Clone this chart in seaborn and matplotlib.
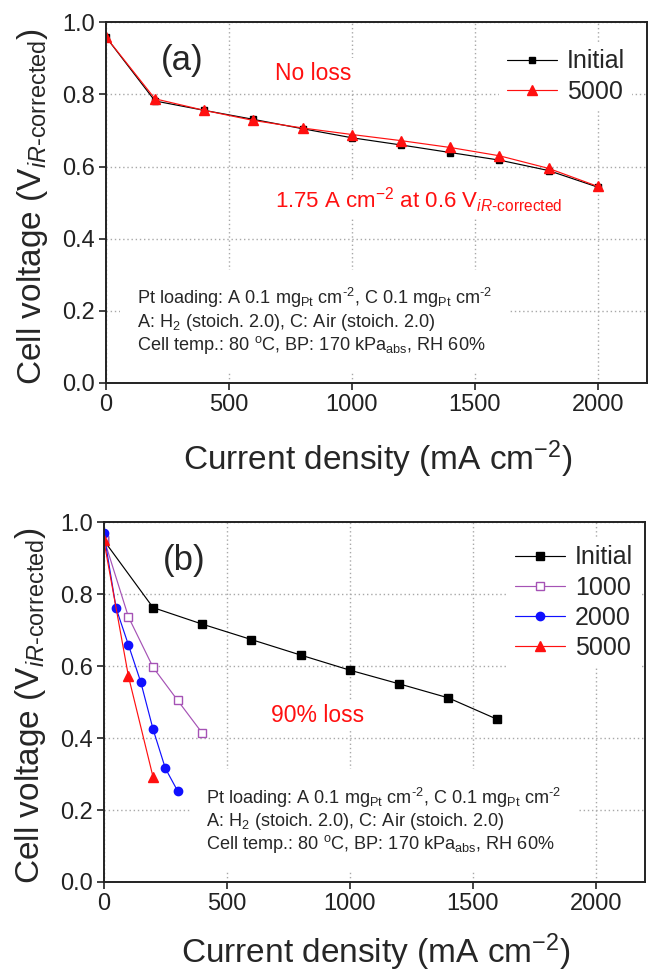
import numpy as np
import pandas as pd
import matplotlib
matplotlib.use("Agg")
import matplotlib.pyplot as plt
import seaborn as sns

# ---------------- data ----------------
x_a = [0, 200, 400, 600, 800, 1000, 1200, 1400, 1600, 1800, 2000]
a_initial = [0.960, 0.782, 0.756, 0.731, 0.705, 0.680, 0.660, 0.639, 0.618, 0.589, 0.543]
a_5000 = [0.960, 0.788, 0.756, 0.728, 0.707, 0.689, 0.672, 0.653, 0.630, 0.595, 0.545]

x_b_initial = [0, 200, 400, 600, 800, 1000, 1200, 1400, 1600]
b_initial = [0.950, 0.763, 0.717, 0.674, 0.631, 0.589, 0.551, 0.512, 0.452]
x_b_1000 = [0, 100, 200, 300, 400]
b_1000 = [0.955, 0.737, 0.597, 0.505, 0.414]
x_b_2000 = [0, 50, 100, 150, 200, 250, 300]
b_2000 = [0.970, 0.761, 0.659, 0.556, 0.425, 0.316, 0.253]
x_b_5000 = [0, 100, 200]
b_5000 = [0.950, 0.572, 0.292]

x_ticks = [0, 500, 1000, 1500, 2000]
y_ticks = [0.0, 0.2, 0.4, 0.6, 0.8, 1.0]

# ---------------- style ----------------
sns.set_style("ticks")
plt.rcParams["font.family"] = ["Liberation Sans", "DejaVu Sans"]
plt.rcParams["mathtext.fontset"] = "custom"
plt.rcParams["mathtext.rm"] = "Liberation Sans"
plt.rcParams["mathtext.it"] = "Liberation Sans:italic"
plt.rcParams["mathtext.bf"] = "Liberation Sans:bold"
plt.rcParams["mathtext.sf"] = "Liberation Sans"
plt.rcParams["axes.unicode_minus"] = True

RED = "#ff1010"
PURPLE = "#a552b5"
BLUE = "#1010ff"
BLACK = "#000000"

fig = plt.figure(figsize=(6.49, 9.72), dpi=100)
ax_a = fig.add_axes([0.163, 0.606, 0.834, 0.371])
ax_b = fig.add_axes([0.160, 0.0926, 0.834, 0.370])

ylab = r"Cell voltage (V$_{\mathit{iR}\text{-corrected}}$)"
xlab = r"Current density (mA cm$^{-2}$)"
block = (r"Pt loading: A 0.1 mg$_{\mathrm{Pt}}$ cm$^{\text{-}2}$, C 0.1 mg$_{\mathrm{Pt}}$ cm$^{\text{-}2}$" "\n"
         r"A: H$_2$ (stoich. 2.0), C: Air (stoich. 2.0)" "\n"
         r"Cell temp.: 80 $^{\mathrm{o}}$C, BP: 170 kPa$_{\mathrm{abs}}$, RH 60%")


def draw(ax, x, y, label, color, marker, ms, mfc=None):
    df = pd.DataFrame({"x": x, "y": y})
    sns.lineplot(data=df, x="x", y="y", ax=ax, color=color, marker=marker,
                 markersize=ms, markeredgecolor=color,
                 markerfacecolor=(mfc if mfc is not None else color),
                 markeredgewidth=1.0, linewidth=0.85, label=label,
                 estimator=None, sort=False)


def style(ax, xlab_y):
    ax.set_xlim(0, 2200)
    ax.set_ylim(0, 1.0)
    ax.set_xticks(x_ticks)
    ax.set_yticks(y_ticks)
    ax.set_yticklabels([f"{v:.1f}" for v in y_ticks])
    ax.tick_params(axis="both", labelsize=17, length=5, width=1.2,
                   direction="out", colors="#222222", pad=3)
    ax.set_axisbelow(True)
    ax.grid(True, linestyle=(0, (1, 2)), color="#a8a8a8", linewidth=1.0)
    for s in ax.spines.values():
        s.set_visible(True)
        s.set_linewidth(1.4)
        s.set_color("#222222")
    ax.set_xlabel(xlab, fontsize=24, va="top")
    ax.set_ylabel(ylab, fontsize=24, va="center")
    ax.xaxis.set_label_coords(0.503, xlab_y)
    ax.yaxis.set_label_coords(-0.136, 0.49)


bbox_w = dict(boxstyle="square,pad=0.15", facecolor="white", edgecolor="none")
leg_kw = dict(loc="upper left", fontsize=18, frameon=True, facecolor="white",
              edgecolor="none", framealpha=1, handlelength=2.0, handletextpad=0.4,
              labelspacing=0.25, borderpad=0.3, borderaxespad=0, fancybox=False,
              numpoints=1)

# ---------------- panel (a) ----------------
draw(ax_a, x_a, a_initial, "Initial", BLACK, "s", 5)
draw(ax_a, x_a, a_5000, "5000", RED, "^", 7)
style(ax_a, -0.155)
ax_a.text(223, 0.895, "(a)", fontsize=25, ha="left", va="center")
ax_a.text(686, 0.859, "No loss", fontsize=16.5, color=RED, ha="left", va="center",
          bbox=bbox_w)
ax_a.text(686, 0.485, r"1.75 A cm$^{-2}$ at 0.6 V$_{\mathit{iR}\text{-corrected}}$",
          fontsize=16, color=RED, ha="left", va="baseline", bbox=bbox_w)
ax_a.text(126, 0.268, block, fontsize=13.1, ha="left", va="top", linespacing=1.08,
          bbox=dict(boxstyle="square,pad=0.9", facecolor="white", edgecolor="none"))
ax_a.legend(bbox_to_anchor=(0.727, 0.946), **leg_kw)

# ---------------- panel (b) ----------------
draw(ax_b, x_b_initial, b_initial, "Initial", BLACK, "s", 6)
draw(ax_b, x_b_1000, b_1000, "1000", PURPLE, "s", 5.5, mfc="white")
draw(ax_b, x_b_2000, b_2000, "2000", BLUE, "o", 6)
draw(ax_b, x_b_5000, b_5000, "5000", RED, "^", 7.5)
style(ax_b, -0.139)
ax_b.text(238, 0.894, "(b)", fontsize=25, ha="left", va="center")
ax_b.text(681, 0.464, "90% loss", fontsize=16.5, color=RED, ha="left", va="center",
          bbox=bbox_w)
ax_b.text(415, 0.268, block, fontsize=13.1, ha="left", va="top", linespacing=1.08,
          bbox=dict(boxstyle="square,pad=0.9", facecolor="white", edgecolor="none"))
ax_b.legend(bbox_to_anchor=(0.746, 0.957), **leg_kw)

fig.savefig("out.png", dpi=100, facecolor="white")
